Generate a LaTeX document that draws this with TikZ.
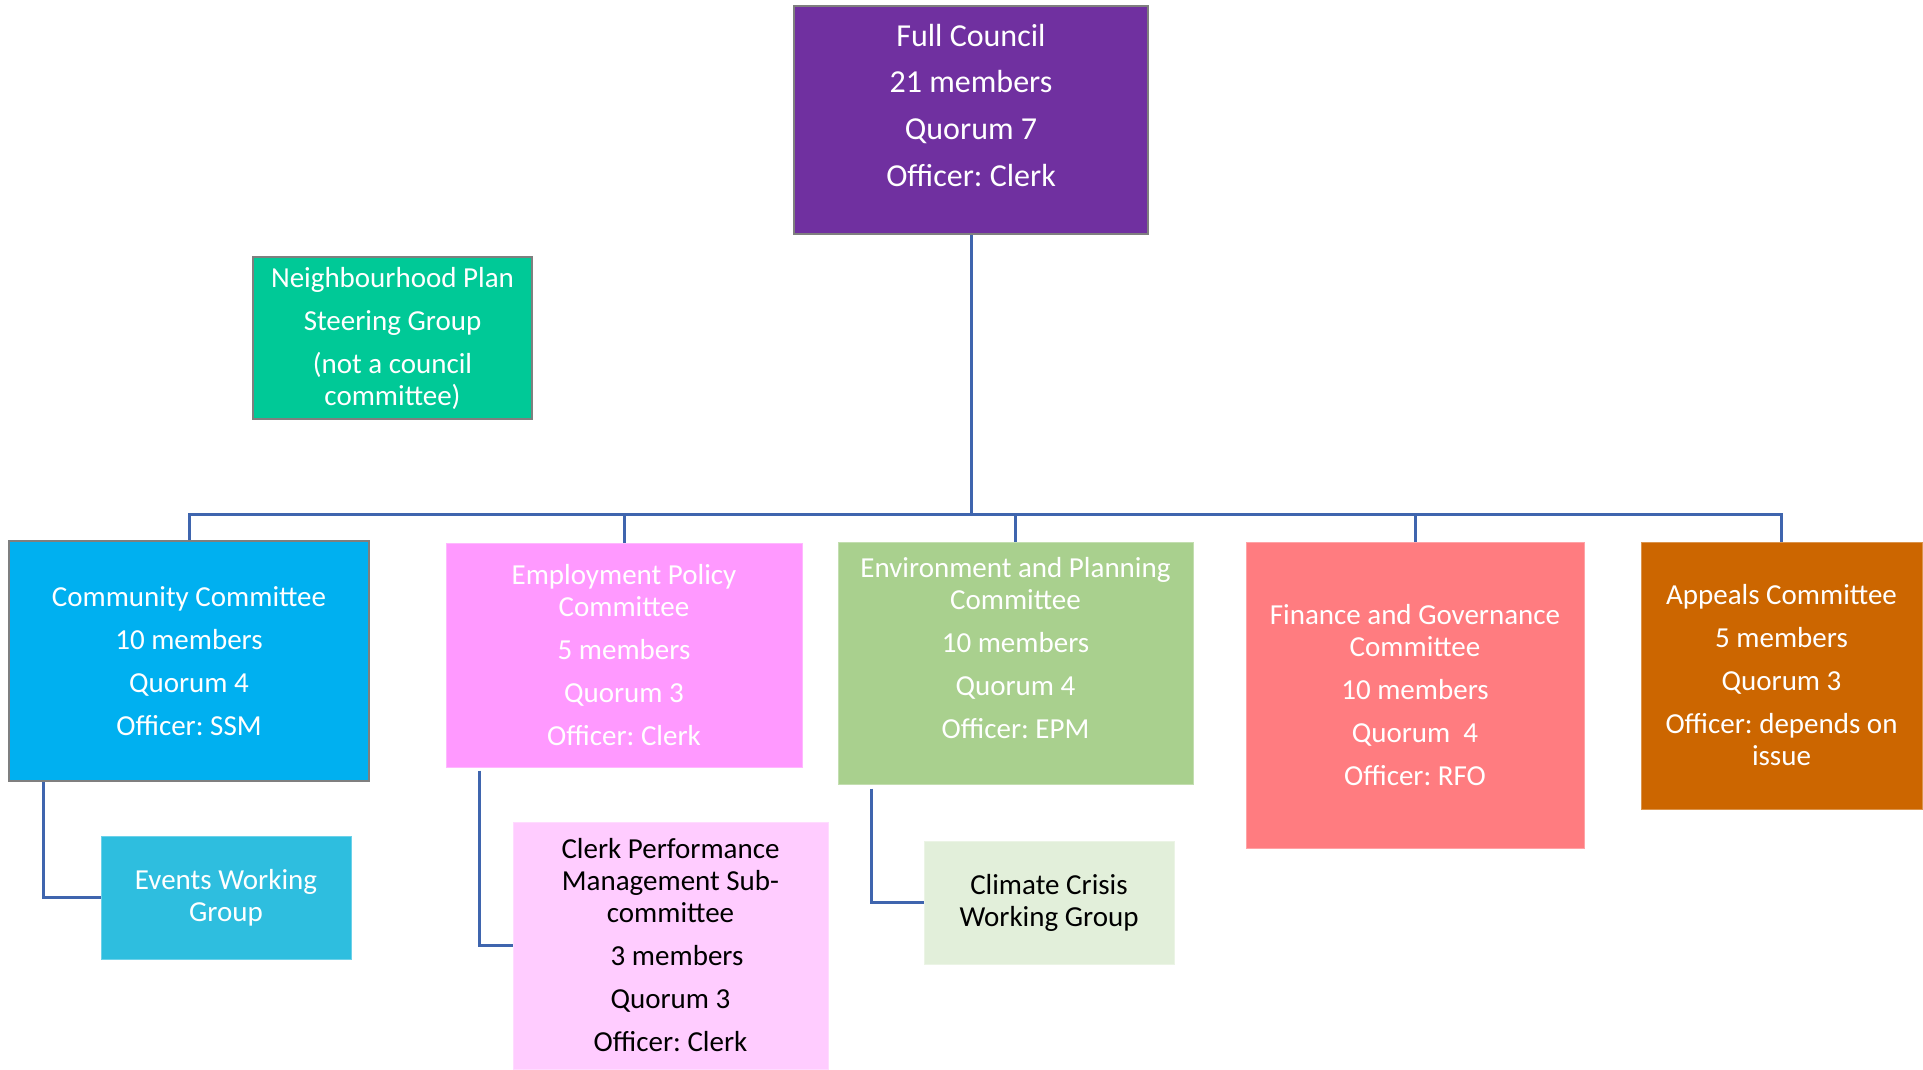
\documentclass[tikz,border=0pt]{standalone}
\usepackage{fontspec}
\setmainfont{Carlito}
\frenchspacing
\usepackage{tikz}
\usetikzlibrary{calc,positioning,arrows.meta}
\definecolor{fcpurple}{HTML}{7030A0}
\definecolor{npgreen}{HTML}{00C997}
\definecolor{ccblue}{HTML}{00B0F0}
\definecolor{eppink}{HTML}{FF99FF}
\definecolor{envgreen}{HTML}{A9D08E}
\definecolor{fgred}{HTML}{FF7C80}
\definecolor{apbrown}{HTML}{CC6600}
\definecolor{evblue}{HTML}{2EBEDF}
\definecolor{clpink}{HTML}{FFCCFF}
\definecolor{cwgreen}{HTML}{E2EFDA}
\definecolor{boxgray}{HTML}{7F7F7F}
\definecolor{linkblue}{HTML}{3F65AE}
\tikzset{bx/.style={rectangle,inner sep=0pt,align=center,text=white,
font=\fontsize{14.5}{16}\selectfont},gb/.style={bx,draw=boxgray,line
width=1.2pt},lk/.style={draw=linkblue,line width=1.5pt}}

\begin{document}
\begin{tikzpicture}[x=0.5pt,y=-0.5pt,
		pb/.style={bx,draw=#1!70!white,fill=#1,line width=0.5pt}]
	\useasboundingbox (0,0) rectangle (1923,1070);
	\node[gb,fill=fcpurple,minimum width=177pt,minimum height=114pt,
		font=\fontsize{16}{23.3}\selectfont] (fc) at (971,120)
		{Full Council\\21 members\\Quorum 7\\Officer: Clerk\\[-8.3pt]\mbox{}};
	\node[gb,fill=npgreen,minimum width=139.5pt,minimum height=81pt] (np) at (392.5,338)
		{Neighbourhood Plan\\[5.5pt]Steering Group\\[5.5pt](not a council\\committee)};
	\node[gb,fill=ccblue,minimum width=180pt,minimum height=120pt] (cc) at (189,661)
		{Community Committee\\[5.5pt]10 members\\[5.5pt]Quorum 4\\[5.5pt]Officer: SSM};
	\node[pb=eppink,minimum width=178pt,minimum height=112pt] (ep) at (624,655)
		{Employment Policy\\Committee\\[5.5pt]5 members\\[5.5pt]Quorum 3\\[5.5pt]Officer: Clerk};
	\node[pb=envgreen,minimum width=177.5pt,minimum height=121pt] (env) at (1015.5,663)
		{Environment and Planning\\Committee\\[5.5pt]10 members\\[5.5pt]Quorum 4\\[5.5pt]Officer: EPM\\[-1pt]\mbox{}};
	\node[pb=fgred,minimum width=169pt,minimum height=153pt] (fg) at (1415,695)
		{Finance and Governance\\Committee\\[5.5pt]10 members\\[5.5pt]Quorum\ \ 4\\[5.5pt]Officer: RFO};
	\node[pb=apbrown,minimum width=140.5pt,minimum height=133.5pt] (ap) at (1781.5,675.5)
		{Appeals Committee\\[5.5pt]5 members\\[5.5pt]Quorum 3\\[5.5pt]Officer: depends on\\issue};
	\node[pb=evblue,minimum width=125pt,minimum height=61.5pt] (ev) at (226,897.5)
		{Events Working\\Group};
	\node[pb=clpink,text=black,minimum width=157.5pt,minimum height=123.5pt] (cl) at (670.5,945.5)
		{Clerk Performance\\Management Sub-\\committee\\[5.5pt]\ \ 3 members\\[5.5pt]Quorum 3\\[5.5pt]Officer: Clerk};
	\node[pb=cwgreen,text=black,minimum width=125pt,minimum height=61.5pt] (cw) at (1049,902.5)
		{Climate Crisis\\Working Group};
	\coordinate (bus) at (fc.south |- 0,514);
	\draw[lk] (fc.south) -- (bus);
	\foreach \n in {cc,ep,env,fg,ap}
		\draw[lk] (bus) -| (\n.north);
	\draw[lk] ([xshift=18pt]cc.south west) |- (ev.west);
	\draw[lk] ([xshift=17pt,yshift=-1.5pt]ep.south west) |- (cl.west);
	\draw[lk] ([xshift=17pt,yshift=-2pt]env.south west) |- (cw.west);
\end{tikzpicture}
\end{document}
